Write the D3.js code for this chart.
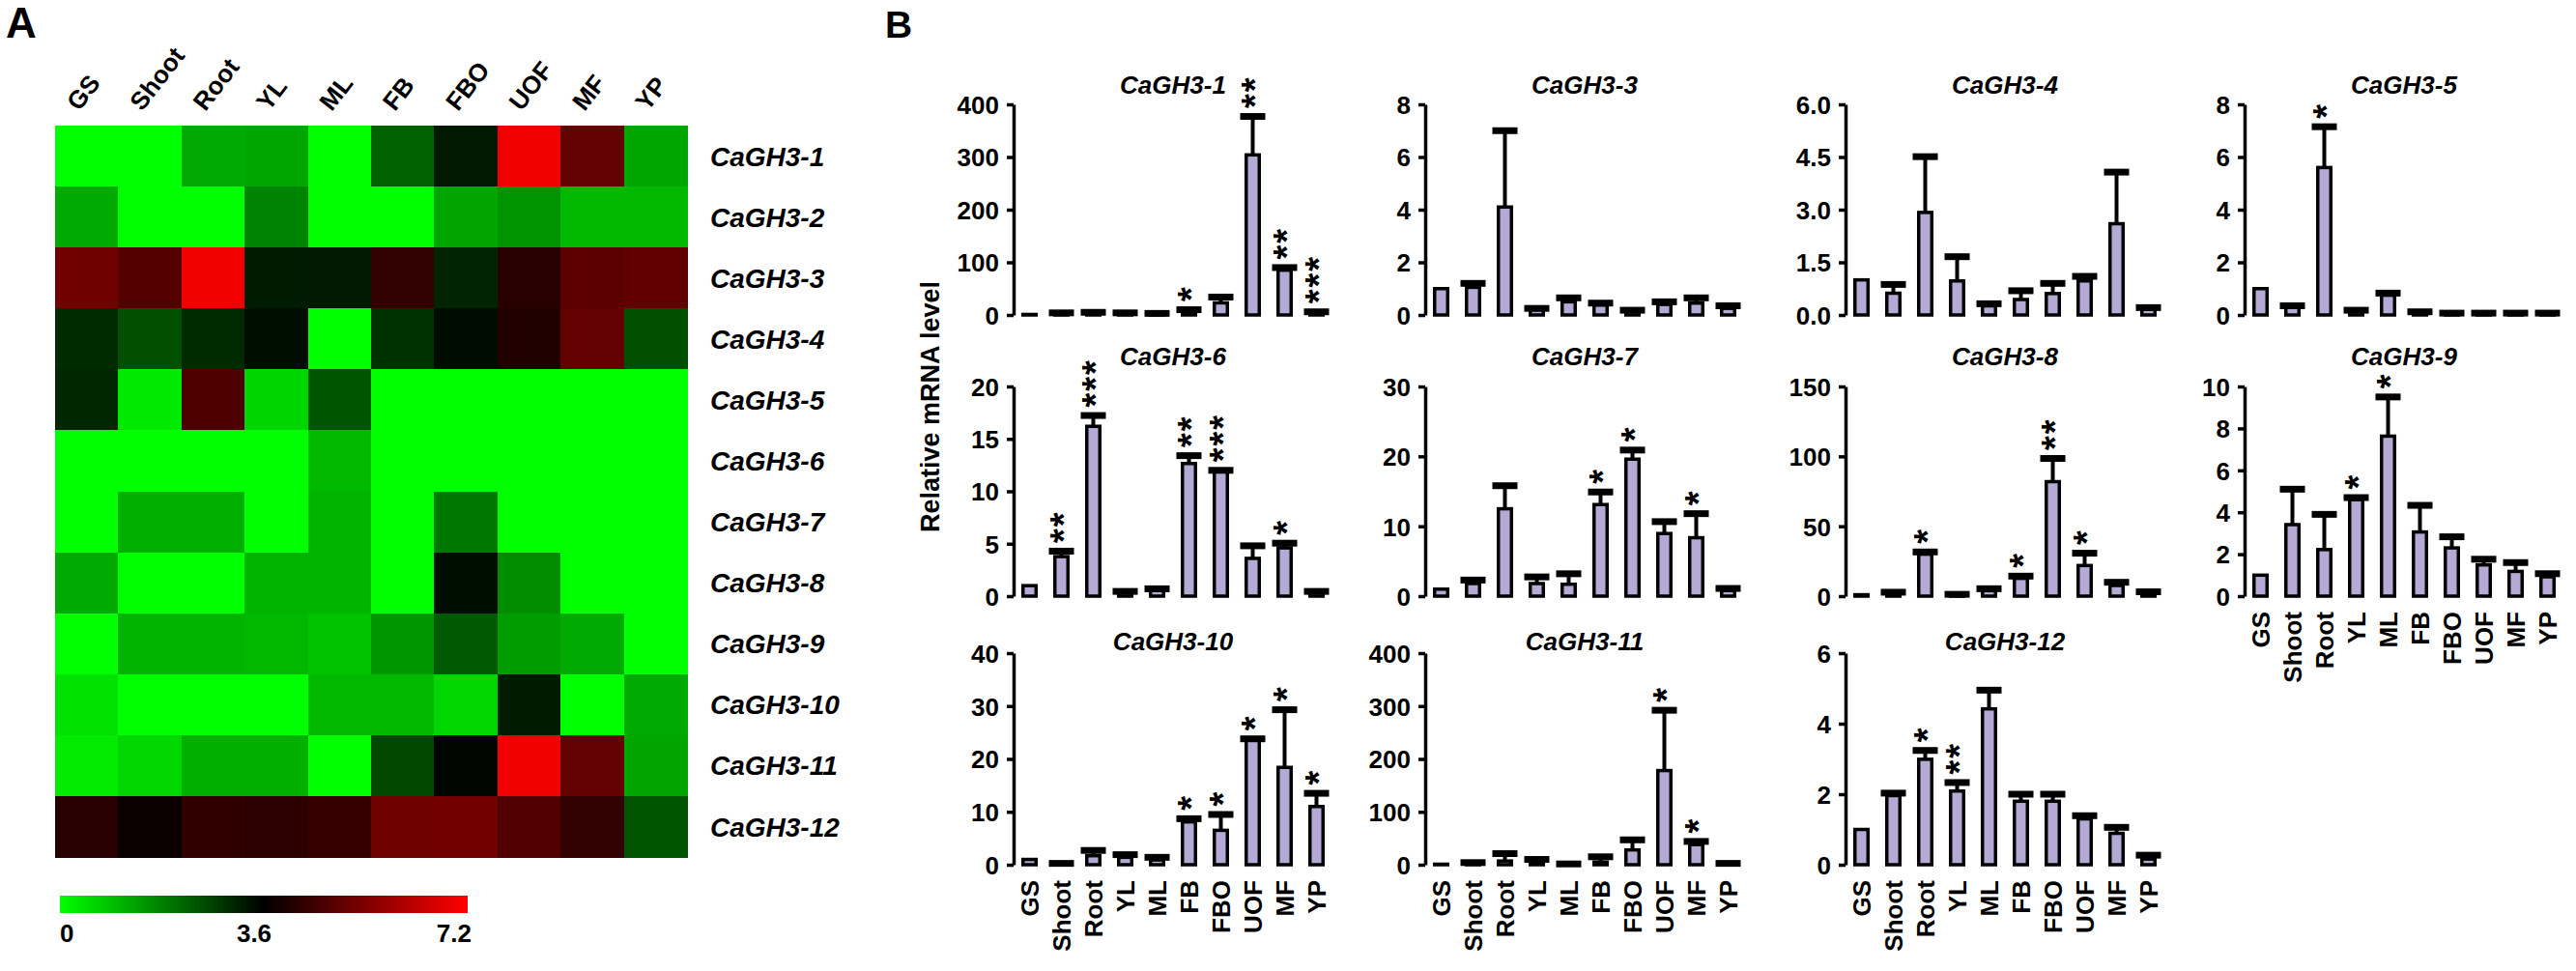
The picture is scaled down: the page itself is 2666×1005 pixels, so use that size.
<!DOCTYPE html>
<html>
<head>
<meta charset="utf-8">
<script src="https://cdnjs.cloudflare.com/ajax/libs/d3/7.8.5/d3.min.js"></script>
<style>
  body { margin: 0; background: #fff; }
  svg  { display: block; font-family: "Liberation Sans", Arial, sans-serif; font-weight: bold; }
  .axis path, .axis line { stroke: #000; stroke-width: 3.5; }
  .axis text { font-size: 26px; font-weight: bold; fill: #000; }
</style>
</head>
<body>
<svg id="fig" width="2666" height="1005"></svg>
<script>
// Tissues (columns of the heatmap, bars of every chart)
var tissues = ["GS", "Shoot", "Root", "YL", "ML", "FB", "FBO", "UOF", "MF", "YP"]

// Heatmap rows
var genes = ["CaGH3-1", "CaGH3-2", "CaGH3-3", "CaGH3-4", "CaGH3-5", "CaGH3-6",
             "CaGH3-7", "CaGH3-8", "CaGH3-9", "CaGH3-10", "CaGH3-11", "CaGH3-12"]

// Heatmap values, one row per gene (scale 0 - 7.2)
var heatValues = [
  [0.0,  0.0,  1.2,  1.25, 0.0,  2.2,  3.25, 7.0,  5.0,  1.25],
  [1.2,  0.0,  0.0,  1.75, 0.0,  0.0,  1.27, 1.5,  1.0,  1.0 ],
  [5.2,  4.8,  7.0,  3.2,  3.25, 4.3,  3.1,  4.15, 4.87, 4.95],
  [3.0,  2.47, 3.0,  3.4,  0.0,  2.9,  3.43, 4.1,  5.0,  2.47],
  [3.05, 0.3,  4.7,  0.6,  2.4,  0.0,  0.0,  0.0,  0.0,  0.0 ],
  [0.0,  0.0,  0.0,  0.0,  1.0,  0.0,  0.0,  0.0,  0.0,  0.0 ],
  [0.0,  1.13, 1.13, 0.0,  1.06, 0.0,  1.9,  0.0,  0.0,  0.0 ],
  [1.2,  0.0,  0.0,  1.06, 1.06, 0.0,  3.4,  1.6,  0.0,  0.0 ],
  [0.0,  1.06, 1.06, 1.0,  0.85, 1.48, 2.33, 1.4,  1.2,  0.0 ],
  [0.42, 0.0,  0.0,  0.0,  1.0,  1.0,  0.56, 3.2,  0.0,  1.2 ],
  [0.28, 0.56, 1.13, 1.13, 0.0,  2.6,  3.53, 7.0,  5.0,  1.27],
  [4.16, 3.74, 4.28, 4.24, 4.38, 5.15, 5.22, 4.73, 4.3,  2.4 ]
]
var heatTicks = [0, 3.6, 7.2]

// Bar charts of panel B
var barGenes = ["CaGH3-1", "CaGH3-3", "CaGH3-4", "CaGH3-5", "CaGH3-6", "CaGH3-7",
                "CaGH3-8", "CaGH3-9", "CaGH3-10", "CaGH3-11", "CaGH3-12"]
var barMeans = [
  [1,   2,    3,    2,    1.5,  6,    23,   304,  85,   4   ],
  [1.0, 1.05, 4.1,  0.2,  0.5,  0.38, 0.15, 0.4,  0.45, 0.25],
  [1.0, 0.62, 2.92, 0.97, 0.26, 0.44, 0.61, 0.97, 2.6,  0.17],
  [1.0, 0.3,  5.6,  0.15, 0.75, 0.1,  0.05, 0.05, 0.05, 0.05],
  [1.0, 3.77, 16.2, 0.4,  0.55, 12.65,11.9, 3.6,  4.6,  0.4 ],
  [1.0, 1.8,  12.5, 1.8,  1.7,  13.1, 19.6, 8.96, 8.36, 0.8 ],
  [1,   2,    30,   1,    3.9,  12.7, 81.9, 21.9, 7.6,  2.8 ],
  [1.0, 3.41, 2.22, 4.6,  7.63, 3.06, 2.3,  1.49, 1.18, 0.92],
  [1.0, 0.2,  1.7,  1.4,  0.9,  8.1,  6.5,  23.7, 18.4, 11  ],
  [1,   3,    7,    5,    1,    5,    28,   178,  38,   2   ],
  [1.0, 1.96, 2.99, 2.09, 4.42, 1.8,  1.8,  1.3,  0.89, 0.16]
]
var barSds = [
  [0, 2,    2,    2,    1.5,  4,    11,   73,   5,    2   ],
  [0, 0.15, 2.9,  0.05, 0.15, 0.07, 0.03, 0.1,  0.2,  0.1 ],
  [0, 0.25, 1.59, 0.69, 0.06, 0.25, 0.29, 0.13, 1.47, 0.04],
  [0, 0.05, 1.55, 0.03, 0.08, 0.02, 0.02, 0.02, 0.02, 0.02],
  [0, 0.52, 1.03, 0.05, 0.15, 0.75, 0.1,  1.2,  0.45, 0.05],
  [0, 0.5,  3.3,  0.95, 1.5,  1.8,  1.3,  1.7,  3.44, 0.3 ],
  [0, 0.8,  1.6,  0.3,  1.4,  1.6,  16.6, 8.8,  2.3,  0.3 ],
  [0, 1.69, 1.68, 0.1,  1.87, 1.27, 0.53, 0.27, 0.42, 0.15],
  [0, 0.05, 1.0,  0.5,  0.5,  0.6,  3.0,  0.1,  10.9, 2.5 ],
  [0, 1,    14,   5,    0.5,  10,   19,   114,  6,    0.5 ],
  [0, 0.07, 0.25, 0.24, 0.53, 0.2,  0.2,  0.09, 0.17, 0.11]
]
// Number of significance stars over each bar
var barStars = [
  [0, 0, 0, 0, 0, 1, 0, 2, 2, 3],
  [0, 0, 0, 0, 0, 0, 0, 0, 0, 0],
  [0, 0, 0, 0, 0, 0, 0, 0, 0, 0],
  [0, 0, 1, 0, 0, 0, 0, 0, 0, 0],
  [0, 2, 3, 0, 0, 2, 3, 0, 1, 0],
  [0, 0, 0, 0, 0, 1, 1, 0, 1, 0],
  [0, 0, 1, 0, 0, 1, 2, 1, 0, 0],
  [0, 0, 0, 1, 1, 0, 0, 0, 0, 0],
  [0, 0, 0, 0, 0, 1, 1, 1, 1, 1],
  [0, 0, 0, 0, 0, 0, 0, 1, 1, 0],
  [0, 0, 1, 2, 0, 0, 0, 0, 0, 0]
]
// Y axis tick labels of each chart
var barTicks = [
  [0, 100, 200, 300, 400],
  [0, 2, 4, 6, 8],
  [0, 1.5, 3, 4.5, 6],
  [0, 2, 4, 6, 8],
  [0, 5, 10, 15, 20],
  [0, 10, 20, 30],
  [0, 50, 100, 150],
  [0, 2, 4, 6, 8, 10],
  [0, 10, 20, 30, 40],
  [0, 100, 200, 300, 400],
  [0, 2, 4, 6]
]
var barTickDecimals = [0, 0, 1, 0, 0, 0, 0, 0, 0, 0, 0]
var yLabel = "Relative mRNA level"

// ---------------------------------------------------------------------------
var svg = d3.select("#fig")

// Panel letters
svg.append("text").attr("x", 6).attr("y", 39).style("font-size", "44px").text("A")
svg.append("text").attr("x", 916).attr("y", 39).style("font-size", "39px").text("B")

// ---- Panel A: heatmap ----
var hx = d3.scaleBand().domain(tissues).range([57, 711]),
    hy = d3.scaleBand().domain(genes).range([130, 887]),
    colour = d3.scaleLinear()
               .domain([0, 3.6, 7.2])
               .range(["#00ff00", "#000000", "#ff0000"])
               .clamp(true)

var heat = svg.append("g").attr("class", "heatmap")
heatValues.forEach(function (row, r) {
  heat.selectAll(null)
      .data(row)
      .enter()
        .append("rect")
          .attr("x", function (d, c) { return hx(tissues[c]) })
          .attr("y", hy(genes[r]))
          .attr("width", hx.bandwidth() + 0.5)
          .attr("height", hy.bandwidth() + 0.5)
          .attr("shape-rendering", "crispEdges")
          .style("fill", function (d) { return colour(d) })
})

// Column labels (slanted)
heat.selectAll(".colLabel")
    .data(tissues)
    .enter()
      .append("text")
        .attr("class", "colLabel")
        .attr("transform", function (d) {
          return "translate(" + (hx(d) + hx.bandwidth() / 2 - 8) + ",116) rotate(-52)"
        })
        .style("font-size", "26px")
        .text(function (d) { return d })

// Row labels
heat.selectAll(".rowLabel")
    .data(genes)
    .enter()
      .append("text")
        .attr("class", "rowLabel")
        .attr("x", hx.range()[1] + 24)
        .attr("y", function (d) { return hy(d) + hy.bandwidth() / 2 })
        .attr("dy", "0.36em")
        .style("font-size", "28px")
        .style("font-style", "italic")
        .text(function (d) { return d })

// Colour key
var grad = svg.append("defs").append("linearGradient").attr("id", "key")
colour.domain().forEach(function (v) {
  grad.append("stop")
      .attr("offset", (v / 7.2 * 100) + "%")
      .attr("stop-color", colour(v))
})
var kx = d3.scaleLinear().domain([0, 7.2]).range([62, 484])
svg.append("rect")
   .attr("x", kx(0)).attr("y", 927)
   .attr("width", kx(7.2) - kx(0)).attr("height", 18)
   .style("fill", "url(#key)")
svg.selectAll(".keyLabel")
   .data(heatTicks)
   .enter()
     .append("text")
       .attr("class", "keyLabel")
       .attr("x", function (d, i) { return kx(d) + [0, -10, 4][i] })
       .attr("y", 975)
       .attr("text-anchor", function (d, i) { return ["start", "middle", "end"][i] })
       .style("font-size", "26px")
       .text(function (d) { return d })

// ---- Panel B: bar charts ----
var colX   = [1049, 1475, 1910, 2323],             // x of each column's y axis
    rowY   = [[326, 108], [617, 400], [895, 676]], // [zero, top] of each row
    titleY = [97, 378, 673],
    plotW  = 330,
    capW   = 26,
    capH   = 7,
    starPx = 38                                    // font size of the stars

barGenes.forEach(function (name, i) {
  var row = Math.floor(i / 4),
      col = i % 4,
      ax  = colX[col],
      ticks = barTicks[i],
      bottomRow = (i >= 7),
      g   = svg.append("g").attr("class", "chart")

  var x = d3.scaleBand()
            .domain(tissues)
            .range([ax, ax + plotW])
            .paddingInner(0.59)
            .paddingOuter(0.295),
      y = d3.scaleLinear()
            .domain([0, d3.max(ticks)])
            .range(rowY[row])

  // Title
  g.append("text")
   .attr("x", ax + plotW / 2)
   .attr("y", titleY[row])
   .attr("text-anchor", "middle")
   .style("font-size", "26px")
   .style("font-style", "italic")
   .text(name)

  // Y axis
  var yAxis = d3.axisLeft(y)
                .tickValues(ticks)
                .tickSize(7)
                .tickSizeOuter(0)
                .tickPadding(8)
                .tickFormat(d3.format("." + barTickDecimals[i] + "f"))
  g.append("g")
   .attr("class", "axis")
   .attr("transform", "translate(" + ax + ",0)")
   .call(yAxis)
   .selectAll("text").attr("dy", "0.36em")

  var data = tissues.map(function (t, k) {
    return { t : t, mean : barMeans[i][k], sd : barSds[i][k], stars : barStars[i][k] }
  })
  var withErr = data.filter(function (d) { return d.sd > 0 })
  var cx = function (d) { return x(d.t) + x.bandwidth() / 2 }

  // Error bar stems
  g.selectAll(".stem")
   .data(withErr)
   .enter()
     .append("line")
       .attr("class", "stem")
       .attr("x1", cx).attr("x2", cx)
       .attr("y1", function (d) { return y(d.mean) })
       .attr("y2", function (d) { return y(d.mean + d.sd) })
       .style("stroke", "#000")
       .style("stroke-width", 4)

  // Bars
  g.selectAll(".bar")
   .data(data)
   .enter()
     .append("rect")
       .attr("class", "bar")
       .attr("x", function (d) { return x(d.t) })
       .attr("y", function (d) { return y(d.mean) })
       .attr("width", x.bandwidth())
       .attr("height", function (d) { return y(0) - y(d.mean) })
       .style("fill", "#b5a9d6")
       .style("stroke", "#000")
       .style("stroke-width", 3.5)

  // Caps drawn over the bars so small values read as dashes
  g.selectAll(".cap")
   .data(withErr)
   .enter()
     .append("rect")
       .attr("class", "cap")
       .attr("x", function (d) { return cx(d) - capW / 2 })
       .attr("y", function (d) { return y(d.mean + d.sd) - capH / 2 })
       .attr("width", capW)
       .attr("height", capH)
       .style("fill", "#000")

  // Significance stars: one string per bar, turned upright so the stars stack
  g.selectAll(".star")
   .data(data.filter(function (d) { return d.stars > 0 }))
   .enter()
     .append("text")
       .attr("class", "star")
       .attr("transform", function (d) {
         var top = y(d.mean + d.sd) - (d.sd > 0 ? capH / 2 : 2)
         return "translate(" + cx(d) + "," + (top - 5) + ") rotate(-90)"
       })
       .attr("dy", "0.4em")
       .style("font-size", starPx + "px")
       .style("letter-spacing", "2px")
       .text(function (d) { return "***".slice(0, d.stars) })

  // Tissue labels under the lowest chart of each column
  if (bottomRow) {
    g.selectAll(".xLabel")
     .data(tissues)
     .enter()
       .append("text")
         .attr("class", "xLabel")
         .attr("transform", function (t) {
           return "translate(" + (x(t) + x.bandwidth() / 2) + "," + (y(0) + 16) + ") rotate(-90)"
         })
         .attr("dy", "0.36em")
         .attr("text-anchor", "end")
         .style("font-size", "26px")
         .text(function (t) { return t })
  }
})

// Shared y axis label
svg.append("text")
   .attr("transform", "translate(962,421) rotate(-90)")
   .attr("dy", "0.36em")
   .attr("text-anchor", "middle")
   .style("font-size", "27px")
   .text(yLabel)
</script>
</body>
</html>
